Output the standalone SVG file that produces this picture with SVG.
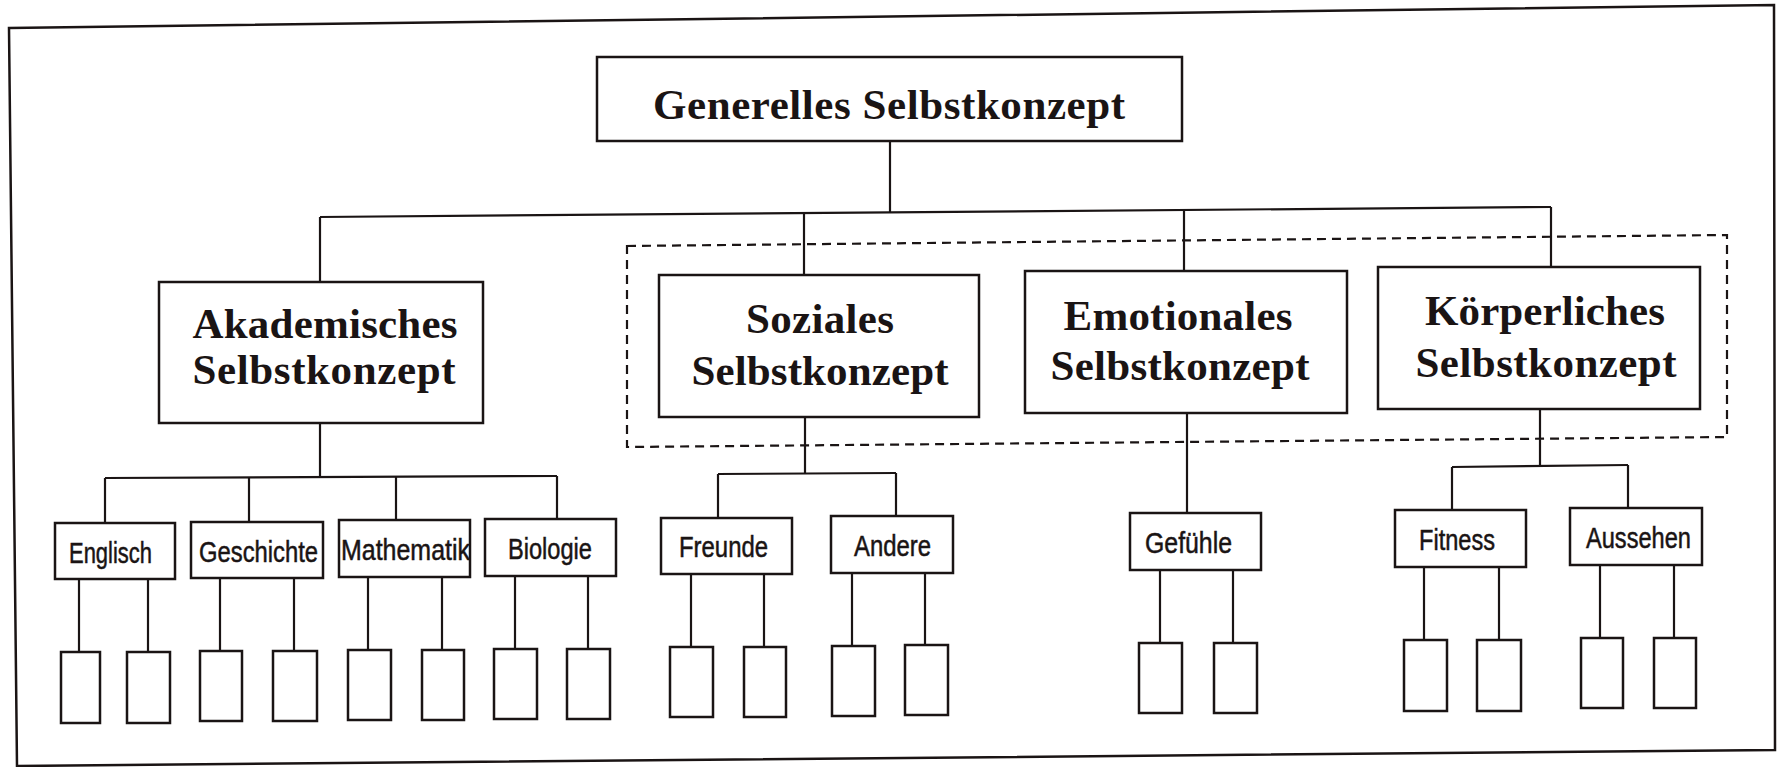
<svg xmlns="http://www.w3.org/2000/svg" width="1782" height="767" viewBox="0 0 1782 767">
<style>
.bx{fill:#fff;stroke:#1a1414;stroke-width:2.5}
.ln{fill:none;stroke:#1a1414;stroke-width:2.2}
.dash{fill:none;stroke:#1a1414;stroke-width:2.2;stroke-dasharray:9 6}
.t1{font-family:"Liberation Serif","Times New Roman",serif;font-weight:bold;font-size:43px;fill:#1a1414;text-anchor:middle}
.t3{font-family:"Liberation Sans Narrow","Liberation Sans",Arial,sans-serif;font-size:29px;fill:#1a1414;stroke:#1a1414;stroke-width:0.5}
</style>
<rect width="1782" height="767" fill="#fff"/>
<polygon class="ln" points="9,28 1774,5 1775,750 17,766" style="stroke-width:2.5"/>

<g id="connectors">
<line class="ln" x1="890" y1="141" x2="890" y2="212"/>
<line class="ln" x1="320" y1="217" x2="1551" y2="207"/>
<line class="ln" x1="320" y1="217" x2="320" y2="282"/>
<line class="ln" x1="804" y1="213" x2="804" y2="275"/>
<line class="ln" x1="1184" y1="210" x2="1184" y2="271"/>
<line class="ln" x1="1551" y1="207" x2="1551" y2="267"/>
<line class="ln" x1="320" y1="423" x2="320" y2="477"/>
<line class="ln" x1="105" y1="478" x2="557" y2="476"/>
<line class="ln" x1="105" y1="478" x2="105" y2="523"/>
<line class="ln" x1="249" y1="477" x2="249" y2="522"/>
<line class="ln" x1="396" y1="477" x2="396" y2="520"/>
<line class="ln" x1="557" y1="476" x2="557" y2="519"/>
<line class="ln" x1="805" y1="417" x2="805" y2="473"/>
<line class="ln" x1="718" y1="474" x2="896" y2="473"/>
<line class="ln" x1="718" y1="474" x2="718" y2="518"/>
<line class="ln" x1="896" y1="473" x2="896" y2="516"/>
<line class="ln" x1="1187" y1="413" x2="1187" y2="513"/>
<line class="ln" x1="1540" y1="409" x2="1540" y2="466"/>
<line class="ln" x1="1452" y1="467" x2="1628" y2="465"/>
<line class="ln" x1="1452" y1="467" x2="1452" y2="510"/>
<line class="ln" x1="1628" y1="465" x2="1628" y2="508"/>
<line class="ln" x1="79" y1="579" x2="79" y2="652"/>
<line class="ln" x1="148" y1="579" x2="148" y2="652"/>
<line class="ln" x1="220" y1="578" x2="220" y2="651"/>
<line class="ln" x1="294" y1="578" x2="294" y2="651"/>
<line class="ln" x1="368" y1="577" x2="368" y2="650"/>
<line class="ln" x1="442" y1="577" x2="442" y2="650"/>
<line class="ln" x1="515" y1="576" x2="515" y2="649"/>
<line class="ln" x1="588" y1="576" x2="588" y2="649"/>
<line class="ln" x1="691" y1="574" x2="691" y2="647"/>
<line class="ln" x1="764" y1="574" x2="764" y2="647"/>
<line class="ln" x1="852" y1="573" x2="852" y2="646"/>
<line class="ln" x1="925" y1="573" x2="925" y2="645"/>
<line class="ln" x1="1160" y1="570" x2="1160" y2="643"/>
<line class="ln" x1="1233" y1="570" x2="1233" y2="643"/>
<line class="ln" x1="1424" y1="567" x2="1424" y2="640"/>
<line class="ln" x1="1499" y1="567" x2="1499" y2="640"/>
<line class="ln" x1="1600" y1="565" x2="1600" y2="638"/>
<line class="ln" x1="1674" y1="565" x2="1674" y2="638"/>
</g>

<polygon id="group-nonacademic" class="dash" points="627,246 1727,235 1727,437 627,447"/>

<g id="generell"><rect class="bx" x="597" y="57" width="585" height="84"/><text class="t1" x="889" y="119" textLength="472">Generelles Selbstkonzept</text></g>

<g id="akademisch"><rect class="bx" x="159" y="282" width="324" height="141"/><text class="t1" x="325" y="338" textLength="265">Akademisches</text><text class="t1" x="324" y="384" textLength="263">Selbstkonzept</text></g>
<g id="sozial"><rect class="bx" x="659" y="275" width="320" height="142"/><text class="t1" x="820" y="333" textLength="148">Soziales</text><text class="t1" x="820" y="385" textLength="257">Selbstkonzept</text></g>
<g id="emotional"><rect class="bx" x="1025" y="271" width="322" height="142"/><text class="t1" x="1178" y="330" textLength="229">Emotionales</text><text class="t1" x="1180" y="380" textLength="259">Selbstkonzept</text></g>
<g id="koerperlich"><rect class="bx" x="1378" y="267" width="322" height="142"/><text class="t1" x="1545" y="325" textLength="240">Körperliches</text><text class="t1" x="1546" y="377" textLength="261">Selbstkonzept</text></g>

<g id="englisch"><rect class="bx" x="55" y="523" width="120" height="56"/><text class="t3" x="69" y="563" textLength="83" lengthAdjust="spacingAndGlyphs">Englisch</text></g>
<g id="geschichte"><rect class="bx" x="191" y="522" width="132" height="56"/><text class="t3" x="199" y="562" textLength="119" lengthAdjust="spacingAndGlyphs">Geschichte</text></g>
<g id="mathematik"><rect class="bx" x="339" y="520" width="131" height="57"/><text class="t3" x="341" y="560" textLength="129" lengthAdjust="spacingAndGlyphs">Mathematik</text></g>
<g id="biologie"><rect class="bx" x="485" y="519" width="131" height="57"/><text class="t3" x="508" y="559" textLength="84" lengthAdjust="spacingAndGlyphs">Biologie</text></g>
<g id="freunde"><rect class="bx" x="661" y="518" width="131" height="56"/><text class="t3" x="679" y="557" textLength="89" lengthAdjust="spacingAndGlyphs">Freunde</text></g>
<g id="andere"><rect class="bx" x="831" y="516" width="122" height="57"/><text class="t3" x="854" y="556" textLength="77" lengthAdjust="spacingAndGlyphs">Andere</text></g>
<g id="gefuehle"><rect class="bx" x="1130" y="513" width="131" height="57"/><text class="t3" x="1145" y="553" textLength="87" lengthAdjust="spacingAndGlyphs">Gefühle</text></g>
<g id="fitness"><rect class="bx" x="1395" y="510" width="131" height="57"/><text class="t3" x="1419" y="550" textLength="76" lengthAdjust="spacingAndGlyphs">Fitness</text></g>
<g id="aussehen"><rect class="bx" x="1570" y="508" width="132" height="57"/><text class="t3" x="1586" y="548" textLength="105" lengthAdjust="spacingAndGlyphs">Aussehen</text></g>

<g id="leaves">
<rect id="e1" class="bx" x="61" y="652" width="39" height="71"/>
<rect id="e2" class="bx" x="127" y="652" width="43" height="71"/>
<rect id="g1" class="bx" x="200" y="651" width="42" height="70"/>
<rect id="g2" class="bx" x="273" y="651" width="44" height="70"/>
<rect id="m1" class="bx" x="348" y="650" width="43" height="70"/>
<rect id="m2" class="bx" x="422" y="650" width="42" height="70"/>
<rect id="b1" class="bx" x="494" y="649" width="43" height="70"/>
<rect id="b2" class="bx" x="567" y="649" width="43" height="70"/>
<rect id="f1" class="bx" x="670" y="647" width="43" height="70"/>
<rect id="f2" class="bx" x="744" y="647" width="42" height="70"/>
<rect id="a1" class="bx" x="832" y="646" width="43" height="70"/>
<rect id="a2" class="bx" x="905" y="645" width="43" height="70"/>
<rect id="gf1" class="bx" x="1139" y="643" width="43" height="70"/>
<rect id="gf2" class="bx" x="1214" y="643" width="43" height="70"/>
<rect id="fi1" class="bx" x="1404" y="640" width="43" height="71"/>
<rect id="fi2" class="bx" x="1477" y="640" width="44" height="71"/>
<rect id="au1" class="bx" x="1581" y="638" width="42" height="70"/>
<rect id="au2" class="bx" x="1654" y="638" width="42" height="70"/>
</g>
</svg>
